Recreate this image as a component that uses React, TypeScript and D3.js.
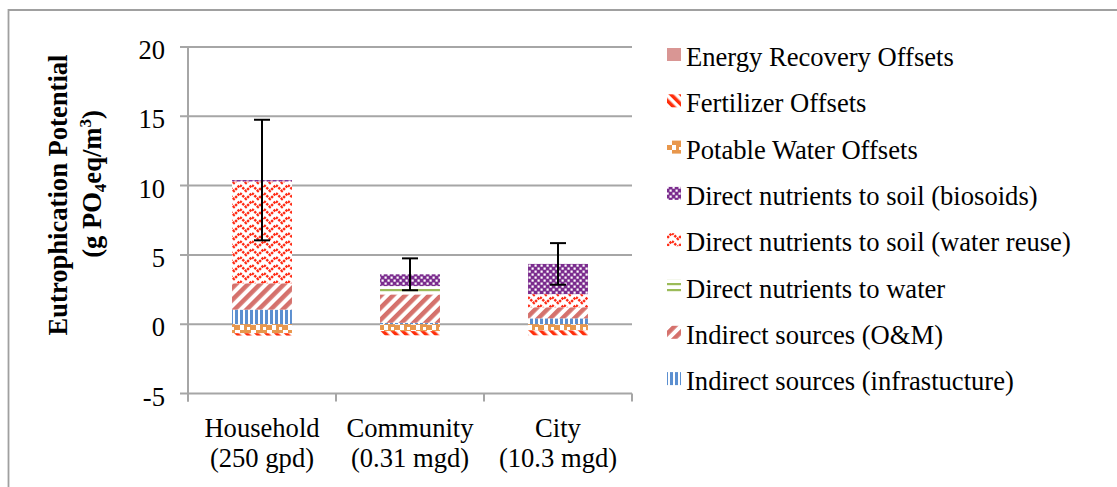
import React from "react";
import * as d3 from "d3";

const categoryNames = ["Household", "Community", "City"];
const categorySizes = ["(250 gpd)", "(0.31 mgd)", "(10.3 mgd)"];

// stacking order (bottom to top for positives, then negatives from zero downward)
const seriesKeys = ["infra", "om", "water", "reuse", "biosolids", "potable", "fertilizer", "energy"];
const seriesLabels = [
  "Indirect sources (infrastucture)",
  "Indirect sources (O&M)",
  "Direct nutrients to water",
  "Direct nutrients to soil (water reuse)",
  "Direct nutrients to soil (biosoids)",
  "Potable Water Offsets",
  "Fertilizer Offsets",
  "Energy Recovery Offsets",
];

const infrastructure = [1.05, 0.1, 0.42];
const operationMaintenance = [1.9, 2.05, 0.8];
const nutrientsToWater = [0, 0.6, 0];
const nutrientsWaterReuse = [7.35, 0, 0.95];
const nutrientsBiosolids = [0.1, 0.85, 2.18];
const potableWaterOffsets = [-0.65, -0.5, -0.45];
const fertilizerOffsets = [-0.17, -0.3, -0.35];
const energyRecoveryOffsets = [0, 0, 0];
const errorMargins = [4.35, 1.15, 1.5];

const seriesValues = [
  infrastructure,
  operationMaintenance,
  nutrientsToWater,
  nutrientsWaterReuse,
  nutrientsBiosolids,
  potableWaterOffsets,
  fertilizerOffsets,
  energyRecoveryOffsets,
];

const yTicks = [-5, 0, 5, 10, 15, 20];

const FONT = "'Liberation Serif', 'Times New Roman', Times, serif";
const FS = 26.6;

function Patterns() {
  return (
    <defs>
      <pattern id="p-infra" width="5" height="10" patternUnits="userSpaceOnUse">
        <rect width="5" height="10" fill="#ffffff" />
        <rect x="0" width="3" height="10" fill="#5b8fd0" />
      </pattern>
      <pattern id="p-om" width="8.5" height="8.5" patternUnits="userSpaceOnUse" patternTransform="rotate(45)">
        <rect width="8.5" height="8.5" fill="#ffffff" />
        <rect x="0" width="4.5" height="8.5" fill="#d5716c" />
      </pattern>
      <pattern id="p-water" width="6" height="6" patternUnits="userSpaceOnUse">
        <rect width="6" height="6" fill="#ffffff" />
        <rect y="1" width="6" height="2.2" fill="#9bbb59" />
      </pattern>
      <pattern id="p-reuse" width="12" height="8" patternUnits="userSpaceOnUse">
        <rect width="12" height="8" fill="#ffffff" />
        <path d="M0,1 L6,7 L12,1" fill="none" stroke="#ff2a14" strokeWidth="2.4" strokeDasharray="2.4 1" />
        <path d="M0,-7 L6,-1 L12,-7" fill="none" stroke="#ff2a14" strokeWidth="2.4" strokeDasharray="2.4 1" />
        <path d="M0,9 L6,15 L12,9" fill="none" stroke="#ff2a14" strokeWidth="2.4" strokeDasharray="2.4 1" />
      </pattern>
      <pattern id="p-bio" width="6" height="6" patternUnits="userSpaceOnUse">
        <rect width="6" height="6" fill="#7b2c8e" />
        <rect x="0.5" y="0.5" width="2.2" height="2.2" fill="#ffffff" />
        <rect x="3.5" y="3.5" width="2.2" height="2.2" fill="#ffffff" />
      </pattern>
      <pattern id="p-potable" width="16" height="10" patternUnits="userSpaceOnUse">
        <rect width="16" height="10" fill="#e8974c" />
        <rect x="11" y="0" width="5" height="5" fill="#ffffff" />
        <rect x="0" y="5" width="4" height="5" fill="#ffffff" />
        <rect x="7" y="7" width="3" height="3" fill="#ffffff" />
      </pattern>
      <pattern id="p-fert" width="7" height="7" patternUnits="userSpaceOnUse" patternTransform="rotate(-45)">
        <rect width="7" height="7" fill="#ffffff" />
        <rect x="0" width="3.5" height="7" fill="#ff2d0a" />
      </pattern>
      <pattern id="p-energy" width="4" height="4" patternUnits="userSpaceOnUse">
        <rect width="4" height="4" fill="#d99694" />
      </pattern>
    </defs>
  );
}

const fills: Record<string, string> = {
  infra: "url(#p-infra)",
  om: "url(#p-om)",
  water: "url(#p-water)",
  reuse: "url(#p-reuse)",
  biosolids: "url(#p-bio)",
  potable: "url(#p-potable)",
  fertilizer: "url(#p-fert)",
  energy: "url(#p-energy)",
};

export default function App() {
  const W = 1117;
  const H = 487;
  const plotLeft = 188;
  const plotRight = 632;
  const y = d3.scaleLinear().domain([-5, 20]).range([393.5, 47]);
  const x = d3.scaleBand<string>().domain(categoryNames).range([plotLeft, plotRight]).padding(0);
  const barW = x.bandwidth() * 0.405;

  const rows = categoryNames.map((c, i) => {
    const r: any = { cat: c };
    seriesKeys.forEach((k, j) => (r[k] = seriesValues[j][i]));
    return r;
  });
  const stacked = d3.stack<any>().keys(seriesKeys).offset(d3.stackOffsetDiverging)(rows);

  const totals = categoryNames.map((_, i) =>
    seriesValues.reduce((s, arr) => s + (arr[i] > 0 ? arr[i] : 0), 0)
  );

  const legendOrder = seriesKeys.map((k, i) => ({ key: k, label: seriesLabels[i] })).reverse();
  const legendX = 667;
  const legendBase0 = 66;
  const legendStep = 46.3;

  const boundaries = [plotLeft, ...categoryNames.map((c) => (x(c) as number) + x.bandwidth())];
  const txt = { fontFamily: FONT };

  return (
    <svg
      width={W}
      height={H}
      style={{ position: "absolute", left: 0, top: 0, background: "#fff", fontFamily: FONT }}
    >
      <Patterns />
      <rect x={0} y={0} width={W} height={H} fill="#ffffff" />
      {/* outer frame */}
      <path d={`M8.5,${H} L8.5,10 L${W},10`} fill="none" stroke="#a0a0a0" strokeWidth={1.8} />

      {/* gridlines */}
      {yTicks.map((t) => (
        <line key={"g" + t} x1={plotLeft - 8} x2={plotRight} y1={y(t)} y2={y(t)} stroke="#a6a6a6" strokeWidth={2} />
      ))}
      {/* y axis line */}
      <line x1={plotLeft} x2={plotLeft} y1={y(20)} y2={y(-5) + 8} stroke="#a6a6a6" strokeWidth={2} />
      {/* category boundary ticks */}
      {boundaries.map((b, i) => (
        <line key={"bt" + i} x1={b} x2={b} y1={y(-5)} y2={y(-5) + 8} stroke="#a6a6a6" strokeWidth={2} />
      ))}

      {/* tick labels */}
      {yTicks.map((t) => (
        <text key={"t" + t} style={txt} x={165} y={y(t) + 12} textAnchor="end" fontSize={FS} fill="#000">
          {t}
        </text>
      ))}

      {/* bars */}
      {stacked.map((s) => (
        <g key={s.key} fill={fills[s.key]}>
          {s.map((d, i) => {
            const y0 = Math.min(y(d[0]), y(d[1]));
            const h = Math.abs(y(d[0]) - y(d[1]));
            if (h < 0.01) return null;
            const cx = (x(categoryNames[i]) as number) + x.bandwidth() / 2;
            return <rect key={i} x={cx - barW / 2} y={y0} width={barW} height={h} />;
          })}
        </g>
      ))}

      {/* error bars */}
      {categoryNames.map((c, i) => {
        const cx = (x(c) as number) + x.bandwidth() / 2;
        const top = y(totals[i] + errorMargins[i]);
        const bot = y(totals[i] - errorMargins[i]);
        return (
          <g key={"e" + c} stroke="#000" strokeWidth={2}>
            <line x1={cx} x2={cx} y1={top} y2={bot} />
            <line x1={cx - 8} x2={cx + 8} y1={top} y2={top} />
            <line x1={cx - 8} x2={cx + 8} y1={bot} y2={bot} />
          </g>
        );
      })}

      {/* category labels */}
      {categoryNames.map((c, i) => {
        const cx = (x(c) as number) + x.bandwidth() / 2;
        return (
          <g key={"c" + c}>
            <text style={txt} x={cx} y={437} textAnchor="middle" fontSize={FS} fill="#000">
              {c}
            </text>
            <text style={txt} x={cx} y={467} textAnchor="middle" fontSize={FS} fill="#000">
              {categorySizes[i]}
            </text>
          </g>
        );
      })}

      {/* y axis title */}
      <text style={txt} transform="translate(67,195) rotate(-90)" textAnchor="middle" fontSize={FS} fontWeight="bold" fill="#000">
        Eutrophication Potential
      </text>
      <text style={txt} transform="translate(101,184) rotate(-90)" textAnchor="middle" fontSize={FS} fontWeight="bold" fill="#000">
        (g PO<tspan fontSize={17} dy={5}>4</tspan>
        <tspan dy={-5}>eq/m</tspan>
        <tspan fontSize={17} dy={-10}>3</tspan>
        <tspan dy={10}>)</tspan>
      </text>

      {/* legend */}
      {legendOrder.map((l, i) => {
        const base = legendBase0 + i * legendStep;
        return (
          <g key={"l" + l.key}>
            <rect x={legendX} y={base - 18} width={14} height={13} fill={fills[l.key]} />
            <text style={txt} x={686} y={base} fontSize={FS} fill="#000">
              {l.label}
            </text>
          </g>
        );
      })}
    </svg>
  );
}
